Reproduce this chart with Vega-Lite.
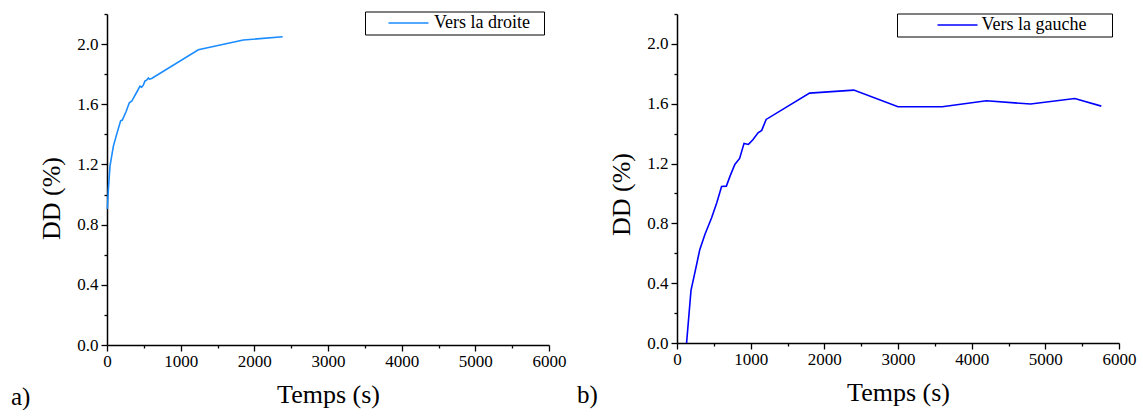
{
  "$schema": "https://vega.github.io/schema/vega-lite/v6.json",
  "background": "white",
  "padding": {"left": 11, "top": 5, "right": 5, "bottom": 0},
  "spacing": 128,
  "bounds": "flush",
  "config": {
    "view": {"stroke": null},
    "font": "Liberation Serif",
    "axis": {
      "grid": false,
      "domainColor": "black",
      "domainWidth": 1.5,
      "tickColor": "black",
      "tickWidth": 1.3,
      "labelColor": "black",
      "labelFont": "Liberation Serif",
      "labelFontSize": 17,
      "titleFont": "Liberation Serif",
      "titleFontSize": 26,
      "titleFontWeight": "normal",
      "titleColor": "black"
    },
    "legend": {
      "orient": "none",
      "strokeColor": "black",
      "fillColor": "white",
      "padding": 2.5,
      "symbolType": "stroke",
      "symbolSize": 1600,
      "clipHeight": 18,
      "symbolStrokeWidth": 1.5,
      "labelFont": "Liberation Serif",
      "labelFontSize": 18,
      "labelColor": "black",
      "titleOrient": "right",
      "titleFont": "Liberation Serif",
      "titleFontSize": 18,
      "titleFontWeight": "normal",
      "titleColor": "black",
      "cornerRadius": 0
    }
  },
  "datasets": {
    "droite": [
      {"t": 5, "dd": 0.905}, {"t": 18, "dd": 1.03}, {"t": 41, "dd": 1.19}, {"t": 86, "dd": 1.32},
      {"t": 131, "dd": 1.40}, {"t": 185, "dd": 1.49}, {"t": 208, "dd": 1.495}, {"t": 258, "dd": 1.55},
      {"t": 303, "dd": 1.61}, {"t": 335, "dd": 1.62}, {"t": 357, "dd": 1.64}, {"t": 403, "dd": 1.68},
      {"t": 448, "dd": 1.72}, {"t": 471, "dd": 1.713}, {"t": 493, "dd": 1.727}, {"t": 516, "dd": 1.755},
      {"t": 538, "dd": 1.76}, {"t": 561, "dd": 1.775}, {"t": 575, "dd": 1.767}, {"t": 606, "dd": 1.771},
      {"t": 1240, "dd": 1.962}, {"t": 1850, "dd": 2.027}, {"t": 2385, "dd": 2.049}
    ],
    "gauche": [
      {"t": 130, "dd": 0}, {"t": 190, "dd": 0.352}, {"t": 247, "dd": 0.481}, {"t": 310, "dd": 0.626},
      {"t": 380, "dd": 0.727}, {"t": 470, "dd": 0.838}, {"t": 540, "dd": 0.938}, {"t": 605, "dd": 1.047},
      {"t": 670, "dd": 1.049}, {"t": 720, "dd": 1.116}, {"t": 785, "dd": 1.194}, {"t": 850, "dd": 1.234},
      {"t": 910, "dd": 1.335}, {"t": 970, "dd": 1.328}, {"t": 1030, "dd": 1.359}, {"t": 1100, "dd": 1.406},
      {"t": 1150, "dd": 1.422}, {"t": 1210, "dd": 1.495}, {"t": 1800, "dd": 1.671}, {"t": 2400, "dd": 1.691},
      {"t": 3000, "dd": 1.58}, {"t": 3600, "dd": 1.58}, {"t": 4200, "dd": 1.62}, {"t": 4800, "dd": 1.598},
      {"t": 5400, "dd": 1.635}, {"t": 5760, "dd": 1.584}
    ]
  },
  "resolve": {"scale": {"color": "independent"}, "legend": {"color": "independent"}},
  "hconcat": [
    {
      "width": 442,
      "height": 331,
      "data": {"name": "droite"},
      "title": {"text": "a)", "orient": "bottom", "anchor": "start", "frame": "group", "dx": -96, "offset": -22, "fontSize": 25, "font": "Liberation Serif", "fontWeight": "normal", "color": "black"},
      "mark": {"type": "line", "strokeWidth": 1.6},
      "encoding": {
        "x": {
          "field": "t", "type": "quantitative",
          "scale": {"domain": [0, 6000], "nice": false, "zero": false},
          "axis": {
            "title": "Temps (s)",
            "values": [0, 500, 1000, 1500, 2000, 2500, 3000, 3500, 4000, 4500, 5000, 5500, 6000],
            "format": "d",
            "labelFont": "Liberation Serif",
            "labelFontSize": 17,
            "labelExpr": "datum.value % 1000 === 0 ? datum.label : ''",
            "tickSize": {"condition": {"test": "datum.value % 1000 === 0", "value": 6}, "value": 3},
            "labelFlush": false, "labelOverlap": false, "labelPadding": 2, "titlePadding": 12
          }
        },
        "y": {
          "field": "dd", "type": "quantitative",
          "scale": {"domain": [0, 2.2], "nice": false, "zero": false},
          "axis": {
            "title": "DD (%)",
            "values": [0, 0.2, 0.4, 0.6, 0.8, 1.0, 1.2, 1.4, 1.6, 1.8, 2.0, 2.2],
            "format": ".1f",
            "labelFont": "Liberation Serif",
            "labelFontSize": 17,
            "labelExpr": "round(datum.value * 10) % 4 === 0 ? datum.label : ''",
            "tickSize": {"condition": {"test": "round(datum.value * 10) % 4 === 0", "value": 6}, "value": 3},
            "labelFlush": false, "labelOverlap": false, "labelPadding": 3, "titlePadding": 12, "titleY": 184
          }
        },
        "color": {
          "datum": "Vers la droite", "type": "nominal",
          "scale": {"range": ["#1a8cff"]},
          "legend": {"title": " ", "titlePadding": 12, "legendX": 258, "legendY": -2.5, "symbolOffset": 20, "labelOffset": 4.5}
        }
      }
    },
    {
      "width": 442,
      "height": 329,
      "data": {"name": "gauche"},
      "title": {"text": "b)", "orient": "bottom", "anchor": "start", "frame": "group", "dx": -100, "offset": -22, "fontSize": 25, "font": "Liberation Serif", "fontWeight": "normal", "color": "black"},
      "mark": {"type": "line", "strokeWidth": 1.6},
      "encoding": {
        "x": {
          "field": "t", "type": "quantitative",
          "scale": {"domain": [0, 6000], "nice": false, "zero": false},
          "axis": {
            "title": "Temps (s)",
            "values": [0, 500, 1000, 1500, 2000, 2500, 3000, 3500, 4000, 4500, 5000, 5500, 6000],
            "format": "d",
            "labelFont": "Liberation Serif",
            "labelFontSize": 17,
            "labelExpr": "datum.value % 1000 === 0 ? datum.label : ''",
            "tickSize": {"condition": {"test": "datum.value % 1000 === 0", "value": 6}, "value": 3},
            "labelFlush": false, "labelOverlap": false, "labelPadding": 2, "titlePadding": 12
          }
        },
        "y": {
          "field": "dd", "type": "quantitative",
          "scale": {"domain": [0, 2.2], "nice": false, "zero": false},
          "axis": {
            "title": "DD (%)",
            "values": [0, 0.2, 0.4, 0.6, 0.8, 1.0, 1.2, 1.4, 1.6, 1.8, 2.0, 2.2],
            "format": ".1f",
            "labelFont": "Liberation Serif",
            "labelFontSize": 17,
            "labelExpr": "round(datum.value * 10) % 4 === 0 ? datum.label : ''",
            "tickSize": {"condition": {"test": "round(datum.value * 10) % 4 === 0", "value": 6}, "value": 3},
            "labelFlush": false, "labelOverlap": false, "labelPadding": 3, "titlePadding": 12, "titleY": 180
          }
        },
        "color": {
          "datum": "Vers la gauche", "type": "nominal",
          "scale": {"range": ["#0000ff"]},
          "legend": {"title": " ", "titlePadding": 23, "legendX": 220, "legendY": -0.5, "symbolOffset": 37, "labelOffset": 3}
        }
      }
    }
  ]
}
